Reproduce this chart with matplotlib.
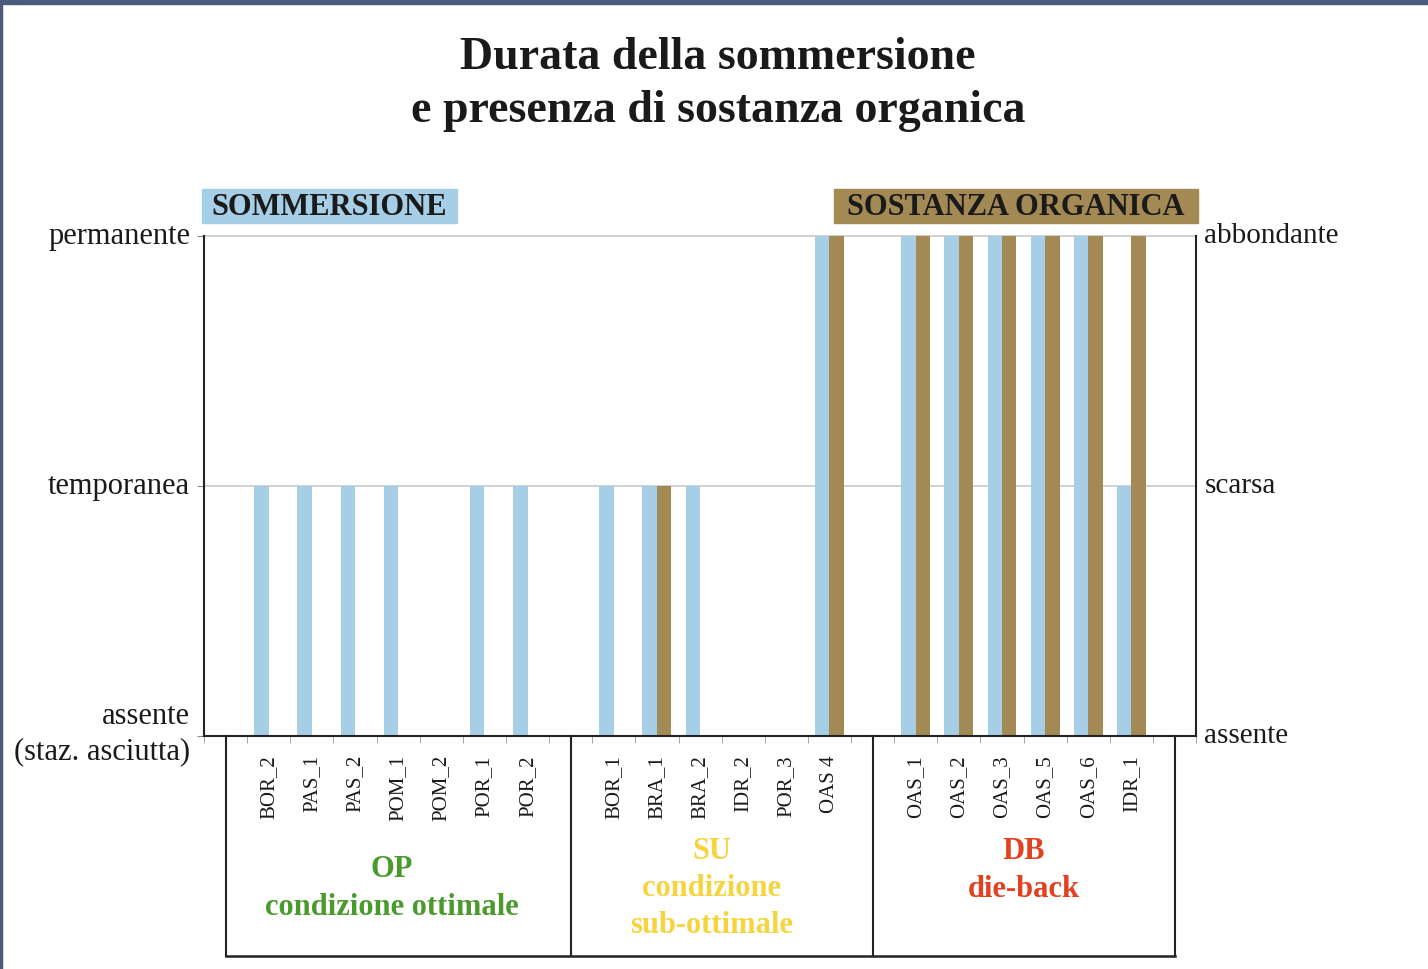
import numpy as np
import matplotlib.pyplot as plt
from matplotlib.patches import Rectangle
from matplotlib.lines import Line2D
import matplotlib.transforms as mtransforms

plt.rcParams['font.family'] = ['Liberation Serif', 'DejaVu Serif']

# Stations per group (OP, SU, DB)
op_sites = ['BOR_2', 'PAS_1', 'PAS_2', 'POM_1', 'POM_2', 'POR_1', 'POR_2']
su_sites = ['BOR_1', 'BRA_1', 'BRA_2', 'IDR_2', 'POR_3', 'OAS 4']
db_sites = ['OAS_1', 'OAS_2', 'OAS_3', 'OAS_5', 'OAS_6', 'IDR_1']

# 0 = assente, 1 = temporanea/scarsa, 2 = permanente/abbondante
op_sommersione = [1, 1, 1, 1, 0, 1, 1]
su_sommersione = [1, 1, 1, 0, 0, 2]
db_sommersione = [2, 2, 2, 2, 2, 1]

op_organica = [0, 0, 0, 0, 0, 0, 0]
su_organica = [0, 1, 0, 0, 0, 2]
db_organica = [2, 2, 2, 2, 2, 2]

left_levels = ['assente\n(staz. asciutta)', 'temporanea', 'permanente']
right_levels = ['assente', 'scarsa', 'abbondante']

groups = [
    ('OP\ncondizione ottimale', '#4a9a2e', op_sites),
    ('SU\ncondizione\nsub-ottimale', '#f6d440', su_sites),
    ('DB\ndie-back', '#e2401f', db_sites),
]

blue = '#a6cfe7'
brown = '#a38954'

# positions: one empty slot before each group and one at the end
labels, pos, group_spans = [], [], []
x = 0
for name, col, sites in groups:
    start = x
    x += 1
    for s in sites:
        labels.append(s)
        pos.append(x)
        x += 1
    group_spans.append((start, name, col, sites))
end = x
pos = np.array(pos)
somm = np.array(op_sommersione + su_sommersione + db_sommersione)
org = np.array(op_organica + su_organica + db_organica)

fig = plt.figure(figsize=(14.28, 9.70), dpi=100)
ax = fig.add_axes([0.1429, 0.2402, 0.6947, 0.5155])

w = 0.335
ax.bar(pos - w / 2, somm, width=w, color=blue, zorder=2, clip_on=False)
ax.bar(pos + w / 2, org, width=w, color=brown, zorder=2, clip_on=False)

ax.set_xlim(-0.5, end + 0.5)
ax.set_ylim(0, 2)
for yv in [1, 2]:
    ax.axhline(yv, color='#c8c8c8', lw=1.2, zorder=1, clip_on=False)

ax.spines['top'].set_visible(False)
for s in ['left', 'right', 'bottom']:
    ax.spines[s].set_color('#222222')
    ax.spines[s].set_linewidth(1.5)

ax.set_yticks([0, 1, 2])
ax.set_yticklabels(left_levels, fontsize=22, color='#1a1a1a', linespacing=1.3)
ax.tick_params(axis='y', length=5, color='#888888', pad=5)

ax.set_xticks(pos)
ax.set_xticklabels(labels, rotation=90, fontsize=15, color='#1a1a1a')
ax.set_xticks(np.arange(-0.5, end + 0.6, 1), minor=True)
ax.tick_params(axis='x', which='major', length=0, pad=13)
ax.tick_params(axis='x', which='minor', length=5, color='#999999')

ax2 = ax.twinx()
ax2.set_ylim(0, 2)
ax2.set_yticks([0, 1, 2])
ax2.set_yticklabels(right_levels, fontsize=21, color='#1a1a1a')
ax2.tick_params(axis='y', length=0, pad=6)
for s in ax2.spines.values():
    s.set_visible(False)

# nudge the level labels a little upward, as in the original
up = mtransforms.ScaledTranslation(0, 3 / 72, fig.dpi_scale_trans)
for lab in ax.get_yticklabels() + ax2.get_yticklabels():
    lab.set_transform(lab.get_transform() + up)
extra = mtransforms.ScaledTranslation(0, 4 / 72, fig.dpi_scale_trans)
lab0 = ax.get_yticklabels()[0]
lab0.set_transform(lab0.get_transform() + extra)

# header boxes
ax.add_patch(Rectangle((-0.002, 1.026), 0.257, 0.068, transform=ax.transAxes,
                       color=blue, clip_on=False, zorder=3))
ax.text(0.1265, 1.058, 'SOMMERSIONE', transform=ax.transAxes, ha='center',
        va='center', fontsize=22, fontweight='bold', color='#1a1a1a', zorder=4)
ax.add_patch(Rectangle((0.635, 1.026), 0.367, 0.068, transform=ax.transAxes,
                       color=brown, clip_on=False, zorder=3))
ax.text(0.8185, 1.058, 'SOSTANZA ORGANICA', transform=ax.transAxes, ha='center',
        va='center', fontsize=22, fontweight='bold', color='#1a1a1a', zorder=4)

# group boxes below axis
trans = mtransforms.blended_transform_factory(ax.transData, ax.transAxes)
ybot = -0.44
bounds = [g[0] for g in group_spans] + [end]
ax.add_line(Line2D([bounds[0], bounds[-1]], [ybot, ybot], transform=trans,
                   color='#222222', lw=1.8, clip_on=False))
for b in bounds:
    ax.add_line(Line2D([b, b], [0, ybot], transform=trans, color='#222222',
                       lw=1.5, clip_on=False))

label_y = [-0.303, -0.303, -0.267]
label_dx = [-0.15, -0.23, 0.0]
for (start, name, col, sites), yy, dx in zip(group_spans, label_y, label_dx):
    cx = start + 1 + (len(sites) - 1) / 2 + dx
    ax.text(cx, yy, name, transform=trans, ha='center', va='center',
            fontsize=22, fontweight='bold', color=col, linespacing=1.38)

fig.text(0.503, 0.913, 'Durata della sommersione\ne presenza di sostanza organica',
         ha='center', va='center', fontsize=33, fontweight='bold',
         color='#1a1a1a', linespacing=1.33)

# frame border
fig.patches.append(Rectangle((0, 0.9945), 1, 0.0055, transform=fig.transFigure,
                             color='#4a5a7a', zorder=0))
fig.patches.append(Rectangle((0, 0), 0.0015, 1, transform=fig.transFigure,
                             color='#4a5a7a', zorder=0))

fig.savefig('out.png', dpi=100, facecolor='white')
